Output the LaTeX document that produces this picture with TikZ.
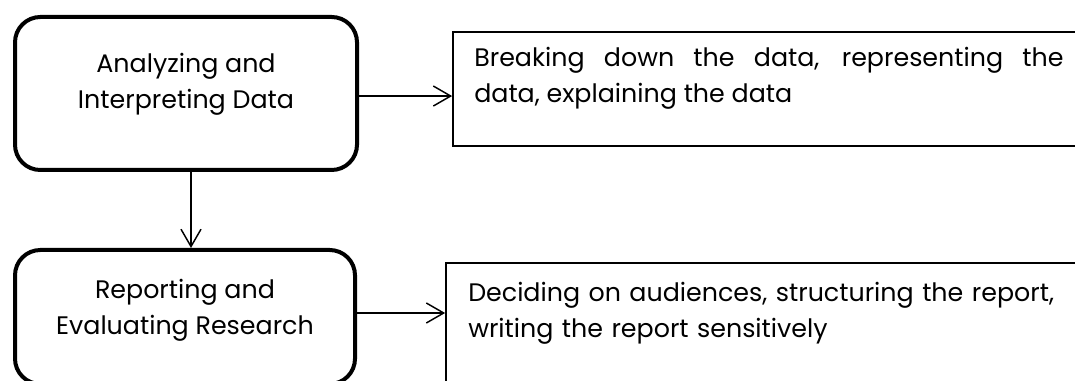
\documentclass[tikz,border=0pt]{standalone}
\usepackage{fontspec}
\setmainfont{Poppins}
\usetikzlibrary{arrows.meta}
\begin{document}
\begin{tikzpicture}[x=0.75pt,y=-0.75pt,
  stagebox/.style={draw=black,line width=3pt,rounded corners=19pt,inner sep=0pt},
  descbox/.style={draw=black,line width=1.3pt,inner sep=0pt},
  txt/.style={font=\fontsize{19}{27}\selectfont,inner sep=0pt},
  arr/.style={line width=1.1pt,-{Straight Barb[length=13pt,width=15pt,line width=1.1pt]}}]
\useasboundingbox (0,0) rectangle (1075,381);
% stage boxes
\node[stagebox,minimum width=256.5pt,minimum height=114.75pt] (b1) at (186,93.5) {};
\node[stagebox,minimum width=255pt,minimum height=100.5pt] (b2) at (185,317) {};
\node[txt,align=center] (t1) at (186,84.5) {Analyzing and\\Interpreting Data};
\node[txt,align=center] (t2) at (185,310) {Reporting and\\Evaluating Research};
% description boxes
\node[descbox,minimum width=477.75pt,minimum height=85.5pt] (r1) at (771.5,89) {};
\node[descbox,minimum width=483pt,minimum height=102.75pt] (r2) at (768,331.5) {};
\node[txt,anchor=west,text width=442pt,align=justify] (d1) at (474,78)
  {Breaking down the data, representing the\linebreak data, explaining the data};
\node[txt,anchor=west,text width=442pt,align=left] (d2) at (468,313.5)
  {Deciding on audiences, structuring the report,\\writing the report sensitively};
% connectors
\draw[arr] ([yshift=-1.9pt]b1.east) -- ([yshift=-1.9pt]b1.east -| r1.west);
\draw[arr] ([yshift=3pt]b2.east) -- ([yshift=3pt]b2.east -| r2.west);
\draw[arr] ([xshift=3.75pt]b1.south) -- ([xshift=3.75pt]b1.south |- b2.north);
\end{tikzpicture}
\end{document}
